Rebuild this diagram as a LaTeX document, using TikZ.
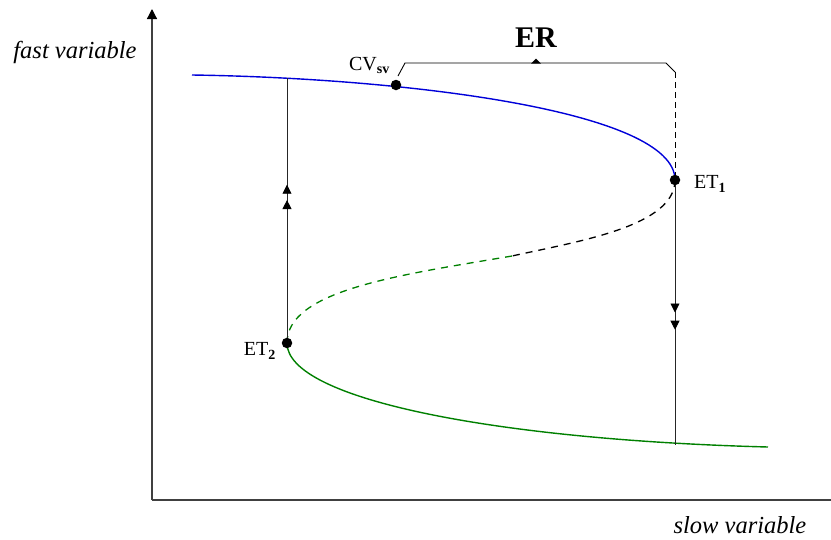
\documentclass[tikz,border=0pt]{standalone}
\usepackage{fontspec}
\setmainfont{Liberation Serif}
\usetikzlibrary{arrows.meta,decorations.markings}
\begin{document}
\begin{tikzpicture}[x=1pt,y=-1pt,
  axisline/.style={line width=1.2pt,draw=black!75},
  bluebranch/.style={draw=blue!85!black,line width=1.4pt},
  greenbranch/.style={draw=green!50!black,line width=1.4pt},
  unstable/.style={line width=1.3pt,dash pattern=on 7pt off 6pt},
  jump/.style={draw=black!85,line width=0.9pt},
  pointdot/.style={circle,fill=black,inner sep=0pt,minimum size=10.5pt},
  lbl/.style={font=\fontsize{20}{20}\selectfont,inner sep=1pt},
  axlbl/.style={font=\fontsize{24.5}{24.5}\selectfont\itshape,inner sep=0pt},
  uparrows/.style={postaction={decorate},decoration={markings,
     mark=at position 0.54 with {\arrow{Triangle[width=9pt,length=9pt,fill=black,black]}},
     mark=at position 0.598 with {\arrow{Triangle[width=9pt,length=9pt,fill=black,black]}}}},
  downarrows/.style={postaction={decorate},decoration={markings,
     mark=at position 0.50 with {\arrow{Triangle[width=9pt,length=9pt,fill=black,black]}},
     mark=at position 0.565 with {\arrow{Triangle[width=9pt,length=9pt,fill=black,black]}}}}
]
\useasboundingbox (0,0) rectangle (831,539);
% axes
\coordinate (O) at (152,500);
\coordinate (Ytop) at (152,9);
\coordinate (Xend) at (831,500);
\draw[axisline,-{Triangle[width=10pt,length=10pt,fill=black,black]}] (O) -- (Ytop);
\draw[axisline] (O) -- (Xend);
\node[axlbl] (fv) at (75,52) {fast variable};
\node[axlbl] (sv) at (740,525) {slow variable};
% key points
\coordinate (ETone) at (675,180);
\coordinate (ETtwo) at (287,343);
\coordinate (Mid) at (512,256);
% upper blue branch
\draw[bluebranch] (192,75) .. controls (400,78) and (675,110) .. (ETone)
   coordinate[pos=0.15] (Ltop) coordinate[pos=0.30] (CVp);
% middle unstable branch
\draw[unstable,draw=black] (ETone) .. controls (675,226) and (580,241) .. (Mid);
\draw[unstable,draw=green!50!black] (Mid) .. controls (400,275) and (287,290) .. (ETtwo);
% lower green branch
\draw[greenbranch] (ETtwo) .. controls (287,400) and (500,440) .. (768,447);
% jumps
\coordinate (Jtop) at (ETtwo |- Ltop);
\coordinate (Jbot) at (ETone |- 0,445);
\draw[jump,uparrows] (ETtwo) -- (Jtop);
\draw[jump,downarrows] (ETone) -- (Jbot);
% points
\node[pointdot] (CV) at (396,85) {};
\node[pointdot] (E1) at (ETone) {};
\node[pointdot] (E2) at (ETtwo) {};
\node[lbl,anchor=west] (E1l) at (693,184) {ET\textsubscript{\textbf{1}}};
\node[lbl,anchor=east] (E2l) at (277,351) {ET\textsubscript{\textbf{2}}};
\node[lbl,anchor=east] (CVl) at (391,65) {CV\textsubscript{\textbf{sv}}};
% ER bracket
\coordinate (Ba) at (398,76);
\coordinate (Bb) at (405,63);
\coordinate (Bc) at (666,63);
\coordinate (Bd) at (675,72);
\coordinate (Bm) at (536,63);
\draw[line width=0.9pt] (Ba) -- (Bb) -- (Bc) -- (Bd);
\draw[line width=0.9pt,dash pattern=on 6pt off 4pt] (Bd) -- (E1.north);
\fill (531,63.5) -- (536,58.5) -- (541,63.5) -- cycle;
\node[font=\fontsize{30}{30}\selectfont\bfseries] (ER) at (Bm |- 0,38) {ER};
\end{tikzpicture}
\end{document}
